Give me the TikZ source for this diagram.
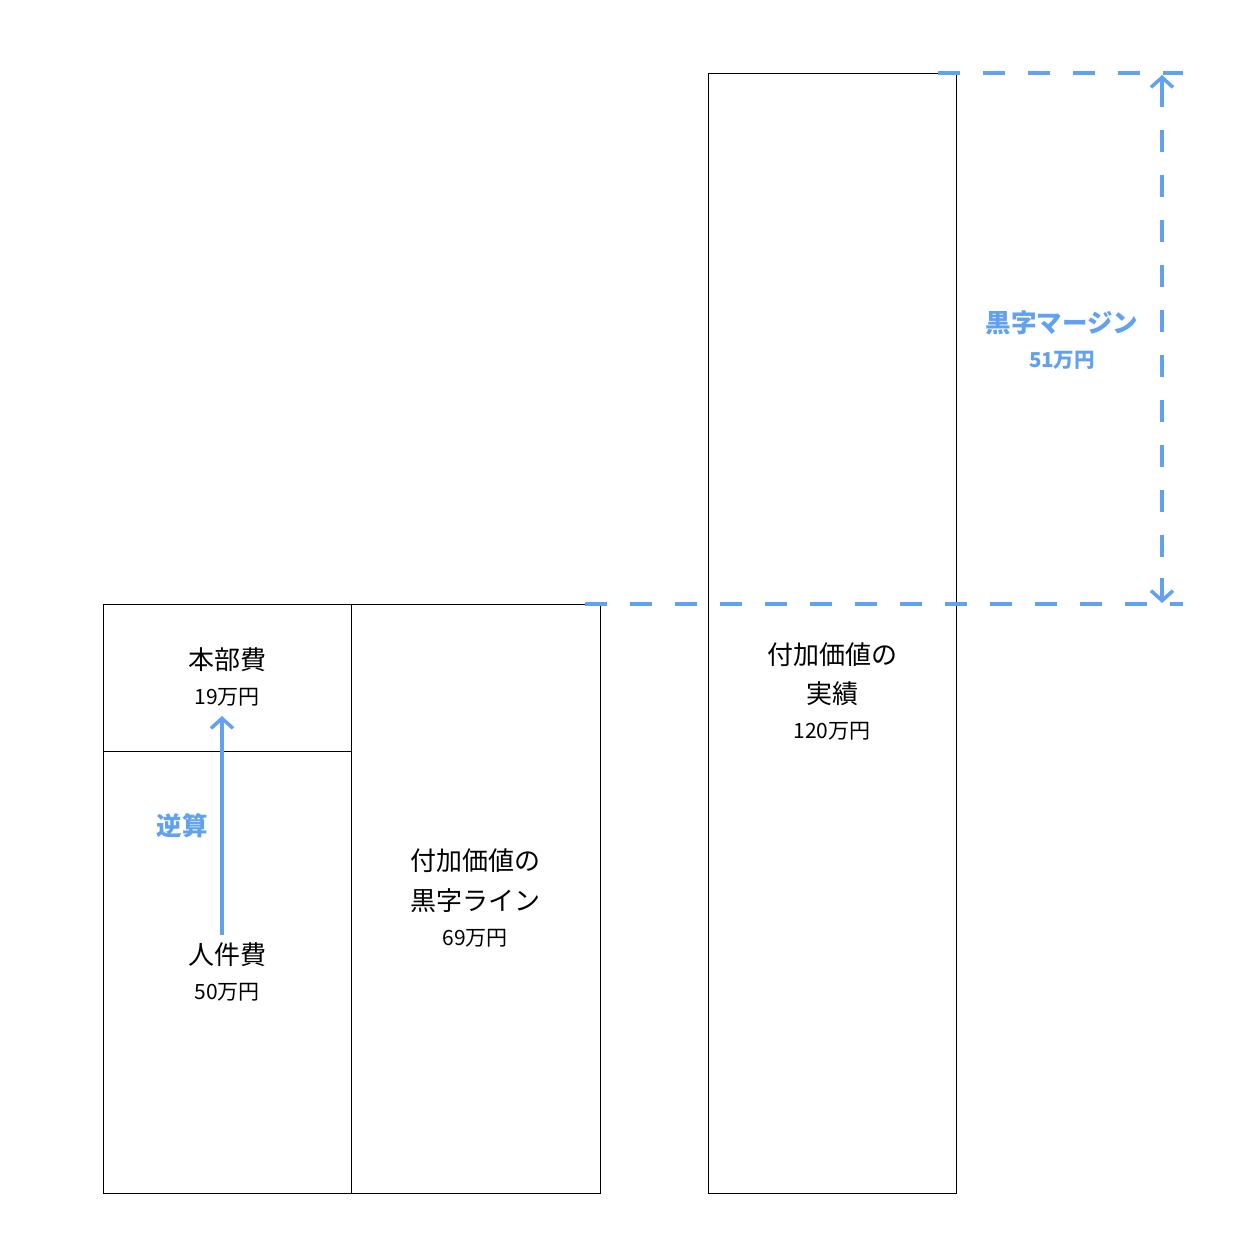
\documentclass[tikz,border=0pt]{standalone}
\usepackage{fontspec}
\setmainfont{Noto Sans CJK JP}
\usetikzlibrary{arrows.meta}
\definecolor{accent}{RGB}{98,161,240}
\tikzset{
  box/.style={draw=black, line width=1pt, fill=none},
  big/.style={font=\fontsize{26}{30}\selectfont, inner sep=0pt},
  small/.style={font=\fontsize{21}{24}\selectfont, inner sep=0pt},
  bluebig/.style={big, text=accent, font=\fontsize{25.5}{30}\selectfont\bfseries},
  bluesmall/.style={small, text=accent, font=\fontsize{20.5}{24}\selectfont\bfseries},
  dashline/.style={draw=accent, line width=4pt, dash pattern=on 22pt off 23pt},
  tipstyle/.style={-{Straight Barb[length=10pt,width=22pt,line width=3.5pt]}},
  barrow/.style={draw=accent, line width=3.5pt, tipstyle},
}
\begin{document}
\begin{tikzpicture}[x=1pt,y=-1pt]
\useasboundingbox (0,0) rectangle (1252,1236);
% boxes
\draw[box] (103,604) rectangle (351,751);
\draw[box] (103,751) rectangle (351,1193);
\draw[box] (351,604) rectangle (600,1193);
\draw[box] (708,74) rectangle (956,1193);
% coordinates
\coordinate (topL) at (938,73);
\coordinate (topR) at (1183,73);
\coordinate (botL) at (585,604);
\coordinate (botR) at (1183,604);
\coordinate (vtop) at (1162,75);
\coordinate (vbot) at (1162,603);
\coordinate (as) at (222,935);
\coordinate (ae) at (222,716);
% dashed lines
\draw[dashline] (topL) -- (topR);
\draw[dashline] (botL) -- (botR);
\draw[dashline, dash phase=10pt] (1162,95) -- (1162,583);
\draw[barrow] (1162,100) -- (vtop);
\draw[barrow] (1162,578) -- (vbot);
% arrow
\draw[barrow] (as) -- (ae);
% texts
\node[big] (honbu) at (227,660) {本部費};
\node[small] (honbuv) at (227,697) {19万円};
\node[big] (jinken) at (227,955) {人件費};
\node[small] (jinkenv) at (227,992) {50万円};
\node[big] (m1) at (475,861) {付加価値の};
\node[big] (m2) at (475,901) {黒字ライン};
\node[small] (m3) at (475,938) {69万円};
\node[big] (r1) at (832,655) {付加価値の};
\node[big] (r2) at (832,694) {実績};
\node[small] (r3) at (832,731) {120万円};
\node[bluebig] (gyaku) at (182,826) {逆算};
\node[bluebig] (margin) at (1062,323) {黒字マージン};
\node[bluesmall] (marginv) at (1062,360) {51万円};
\end{tikzpicture}
\end{document}
